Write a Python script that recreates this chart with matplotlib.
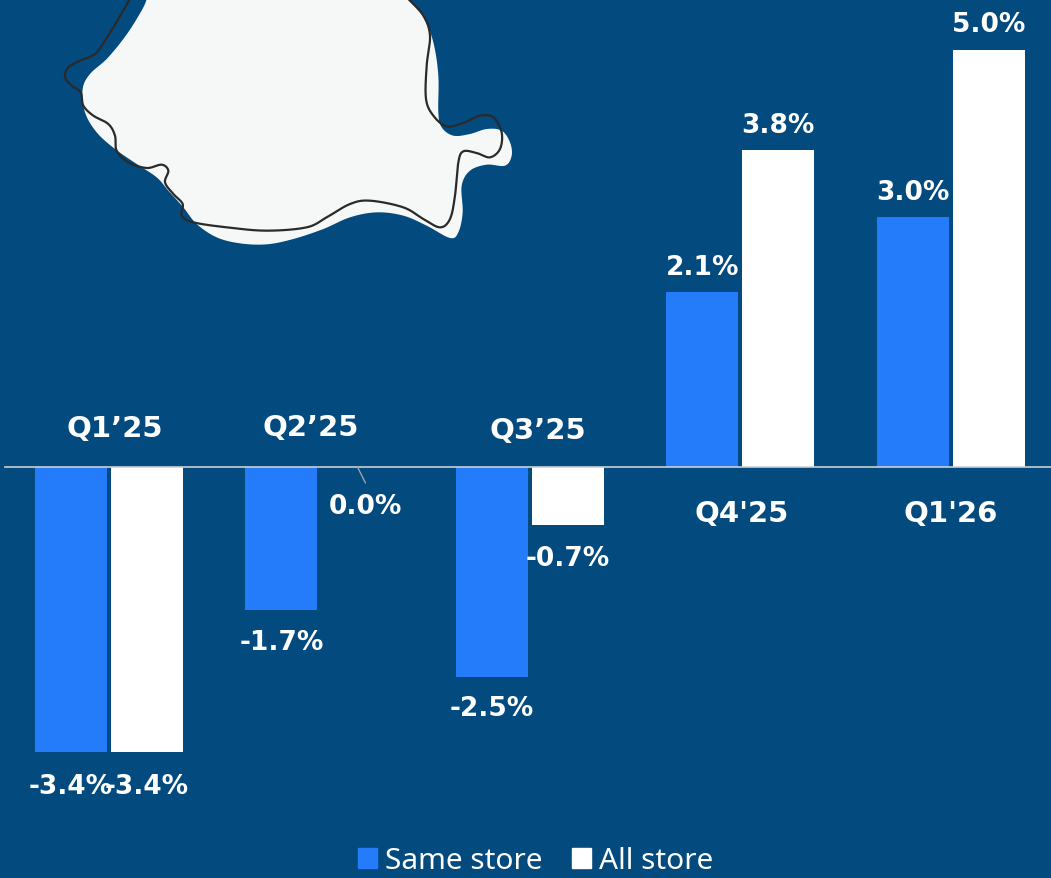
import matplotlib; matplotlib.use("Agg")
import matplotlib.pyplot as plt
from matplotlib.patches import Patch, Polygon
from matplotlib.transforms import Affine2D
import numpy as np

plt.rcParams['font.family'] = ['DejaVu Sans']

BG = "#034a7e"
BLUE = "#257cfa"
WHITE = "#ffffff"

quarters = ["Q1’25", "Q2’25", "Q3’25", "Q4'25", "Q1'26"]
same_store = [-3.41, -1.71, -2.52, 2.1, 3.0]
all_store = [-3.41, 0.0, -0.69, 3.8, 5.0]

# hand adjusted label offsets in px, the source chart moved these around
quarter_dx = [6, -9, 8, 1, 0]
quarter_dy = [39, 40, 37, -46, -46]
same_dy = [-34, -32, -31, 25, 25]
all_dx = [0, 8, 0, 0, 0]
all_dy = [-34, -39, -33, 25, 26]

# decorative map, traced in px from the top left corner
map_fill = [(320, -60), (320, 0), (290, 60), (250, 120), (200, 180), (150, 225), (128, 270),
            (135, 340), (170, 400), (225, 450), (290, 495), (350, 535), (385, 575), (430, 625),
            (470, 675), (530, 715), (600, 733), (680, 736), (760, 720), (850, 690), (930, 655),
            (1010, 640), (1090, 650), (1160, 680), (1230, 717), (1255, 700), (1268, 640),
            (1265, 560), (1290, 515), (1340, 497), (1395, 500), (1415, 470), (1410, 430),
            (1385, 395), (1340, 390), (1290, 405), (1240, 410), (1205, 385), (1195, 340),
            (1195, 230), (1180, 130), (1150, 50), (1110, 0), (1110, -60)]
map_line = [(270, 0), (235, 60), (195, 125), (165, 165), (120, 185), (85, 205), (75, 235),
            (95, 260), (122, 280), (130, 320), (160, 350), (205, 375), (225, 410), (230, 455),
            (265, 490), (320, 507), (365, 497), (385, 515), (375, 550), (400, 585), (428, 615),
            (425, 650), (460, 670), (560, 685), (680, 695), (800, 685), (860, 655), (930, 615),
            (990, 605), (1090, 625), (1150, 660), (1200, 685), (1230, 660), (1245, 590),
            (1255, 490), (1270, 457), (1310, 462), (1350, 475), (1380, 450), (1385, 400),
            (1360, 355), (1320, 350), (1270, 372), (1220, 382), (1180, 350), (1158, 300),
            (1160, 200), (1170, 110), (1150, 50), (1105, 0)]


def smooth(points, n=12):
    """Catmull-Rom through the traced points."""
    p = np.array(points, dtype=float)
    p = np.vstack([p[0], p, p[-1]])
    out = []
    for i in range(1, len(p) - 2):
        t = np.linspace(0, 1, n, endpoint=False)[:, None]
        out.append(0.5 * (2 * p[i] + (p[i + 1] - p[i - 1]) * t
                          + (2 * p[i - 1] - 5 * p[i] + 4 * p[i + 1] - p[i + 2]) * t ** 2
                          + (3 * p[i] - p[i - 1] - 3 * p[i + 1] + p[i + 2]) * t ** 3))
    out.append(p[-2:-1])
    return np.vstack(out)


W, H = 1051, 879
fig = plt.figure(figsize=(W / 100, H / 100), dpi=100, facecolor=BG)
ax = fig.add_axes([0, 0, 1, 1], facecolor=BG)
ax.set_xlim(-0.518, 4.477)
ax.set_ylim(-4.922, 5.605)
ax.axis("off")

# map sits behind everything, px coords -> figure (zoom crop was 3x, origin 40,0)
px = Affine2D().scale(1 / 3).translate(40, 0).scale(1, -1).translate(0, H)
ax.add_patch(Polygon(smooth(map_fill), closed=True, facecolor="#f6f8f8", edgecolor="none",
                     transform=px, zorder=1))
line_xy = smooth(map_line)
ax.plot(line_xy[:, 0], line_xy[:, 1], color="#2a2a2a", lw=1.6, transform=px, zorder=2)

x = np.arange(len(quarters))
width = 0.342
shift = 0.181
ax.bar(x - shift, same_store, width, color=BLUE, label="Same store", zorder=3)
ax.bar(x + shift, all_store, width, color=WHITE, label="All store", zorder=3)
ax.plot([-0.494, 4.477], [0, 0], color="#c9d0d6", lw=1.2, zorder=4)


def px_label(xv, yv, text, dx, dy, size):
    ax.annotate(text, (xv, yv), xytext=(dx * 0.72, dy * 0.72), textcoords="offset points",
                ha="center", va="center", color=WHITE, fontsize=size, fontweight="bold", zorder=5)


for i in range(len(quarters)):
    px_label(x[i] - shift, same_store[i], f"{same_store[i]:.1f}%", 0, same_dy[i], 19)
    px_label(x[i] + shift, all_store[i], f"{all_store[i]:.1f}%", all_dx[i], all_dy[i], 19)
    px_label(x[i], 0, quarters[i], quarter_dx[i], quarter_dy[i], 21)

# leader line of the 0.0% label
ax.annotate("", (x[1] + shift, 0), xytext=(8, -16), textcoords="offset pixels",
            arrowprops=dict(arrowstyle="-", color="#9aa5ad", lw=1, shrinkA=0, shrinkB=0), zorder=4)

handles = [Patch(color=BLUE, label="Same store"), Patch(color=WHITE, label="All store")]
leg = ax.legend(handles=handles, loc="center", bbox_to_anchor=(535.5 / W, 1 - 862 / H), ncol=2,
                frameon=False, labelcolor=WHITE, handlelength=0.62, handleheight=0.62,
                handletextpad=0.27, columnspacing=1.0, borderpad=0,
                prop={"family": "Noto Sans", "size": 21.5})

fig.savefig("out.png", dpi=100, facecolor=BG)
